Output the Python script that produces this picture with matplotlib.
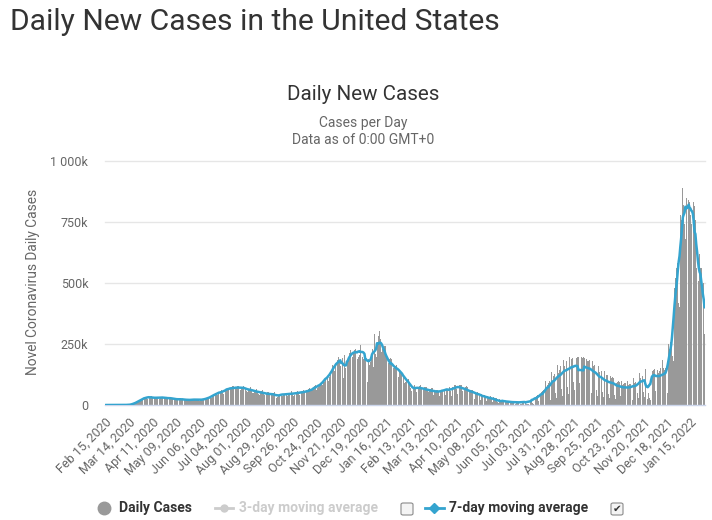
import numpy as np
import pandas as pd
import matplotlib.pyplot as plt
from matplotlib.lines import Line2D
from matplotlib.patches import FancyBboxPatch

plt.rcParams['font.family'] = ['Roboto', 'DejaVu Sans']

start_date = '2020-02-15'

# daily new cases (thousands), one row per week, Sat..Fri
daily_k = [
    0, 0, 0, 0, 0, 0, 0.01,
    0, 0, 0.02, 0, 0.01, 0, 0.01,
    0.01, 0.02, 0.03, 0.03, 0.05, 0.07, 0.09,
    0.12, 0.13, 0.17, 0.27, 0.36, 0.44, 0.6,
    0.7, 0.8, 1.2, 1.7, 2.9, 4.5, 5.8,
    7.5, 9.1, 10.5, 11.0, 12.5, 17.0, 19.2,
    19.8, 19.5, 21.5, 25.3, 27.5, 29.5, 32.5,
    34.0, 26.5, 30.5, 31.0, 32.0, 34.5, 35.0,
    30.5, 27.5, 26.5, 28.0, 30.0, 31.5, 33.5,
    32.0, 27.0, 26.5, 28.5, 29.5, 32.0, 36.0,
    35.0, 27.0, 23.5, 25.5, 28.0, 30.0, 34.5,
    30.0, 26.5, 23.0, 24.5, 26.0, 28.0, 29.5,
    26.0, 21.0, 19.5, 22.0, 21.5, 28.0, 27.0,
    25.0, 19.0, 22.0, 20.5, 22.0, 23.5, 25.0,
    22.0, 19.0, 18.5, 19.0, 20.0, 23.0, 25.0,
    24.0, 20.0, 20.0, 21.0, 21.5, 22.5, 25.5,
    22.5, 18.0, 18.5, 20.5, 22.0, 24.0, 27.0,
    26, 21, 24, 26, 29, 32, 35,
    34, 30, 35, 39, 43, 45, 49,
    46, 42, 46, 50, 54, 58, 60,
    48, 46, 57, 62, 64, 66, 71,
    66, 61, 63, 68, 70, 76, 76,
    68, 63, 65, 70, 76, 79, 78,
    71, 61, 64, 69, 76, 78, 76,
    68, 56, 55, 62, 65, 70, 72,
    63, 51, 50, 55, 58, 62, 66,
    58, 44, 43, 50, 54, 56, 60,
    52, 42, 40, 44, 48, 52, 55,
    46, 37, 38, 42, 45, 48, 54,
    46, 34, 29, 33, 40, 44, 52,
    44, 36, 37, 41, 44, 48, 52,
    46, 38, 41, 43, 45, 49, 56,
    49, 38, 41, 46, 49, 52, 59,
    54, 40, 44, 49, 54, 58, 63,
    56, 45, 45, 54, 60, 65, 71,
    58, 49, 60, 63, 65, 76, 84,
    82, 62, 68, 75, 80, 92, 100,
    86, 84, 94, 93, 105, 120, 130,
    118, 100, 113, 125, 132, 148, 165,
    158, 138, 160, 162, 172, 186, 198,
    180, 160, 182, 185, 192, 110, 205,
    150, 135, 160, 182, 198, 215, 226,
    215, 180, 195, 215, 225, 230, 245,
    218, 188, 197, 205, 245, 238, 252,
    198, 188, 196, 200, 228, 205, 96,
    190, 165, 178, 200, 232, 230, 155,
    290, 210, 198, 228, 258, 282, 305,
    272, 218, 225, 230, 235, 240, 242,
    205, 175, 145, 172, 188, 192, 190,
    172, 132, 150, 150, 158, 165, 168,
    148, 115, 140, 132, 136, 138, 142,
    118, 92, 96, 100, 105, 108, 108,
    92, 70, 58, 68, 72, 75, 82,
    74, 55, 58, 72, 74, 78, 80,
    70, 55, 60, 62, 72, 74, 72,
    64, 45, 55, 60, 64, 68, 68,
    56, 40, 53, 56, 61, 62, 64,
    52, 38, 56, 56, 62, 66, 72,
    62, 40, 63, 63, 70, 76, 72,
    56, 36, 72, 65, 76, 82, 84,
    65, 45, 82, 75, 80, 84, 82,
    58, 40, 72, 70, 72, 76, 72,
    52, 31, 62, 56, 62, 63, 62,
    46, 26, 54, 46, 52, 53, 51,
    36, 21, 46, 37, 41, 39, 42,
    29, 17, 37, 29, 33, 33, 36,
    23, 13, 31, 24, 26, 27, 28,
    13, 8, 9, 26, 19, 19, 21,
    11, 6, 21, 16, 17, 16, 16,
    8, 5, 18, 13, 14, 14, 13,
    6, 4, 16, 11, 13, 13, 13,
    6, 4, 18, 13, 14, 15, 17,
    5, 3, 4, 27, 19, 21, 24,
    9, 5, 40, 29, 33, 36, 39,
    16, 9, 62, 46, 52, 57, 62,
    24, 14, 100, 74, 84, 92, 100,
    38, 20, 135, 100, 118, 128, 134,
    50, 28, 165, 130, 145, 150, 158,
    66, 38, 186, 158, 168, 178, 182,
    75, 45, 198, 175, 180, 190, 192,
    95, 60, 196, 188, 192, 198, 195,
    90, 55, 80, 195, 192, 195, 192,
    88, 52, 190, 180, 182, 186, 185,
    78, 48, 180, 160, 165, 168, 165,
    62, 38, 160, 135, 140, 142, 140,
    52, 32, 140, 118, 120, 122, 122,
    45, 28, 118, 108, 112, 115, 112,
    40, 24, 110, 92, 96, 98, 96,
    36, 22, 100, 84, 86, 90, 90,
    36, 20, 100, 82, 85, 88, 92,
    40, 22, 110, 90, 95, 95, 90,
    48, 30, 130, 110, 115, 120, 118,
    52, 32, 148, 118, 122, 25, 48,
    30, 20, 175, 160, 138, 142, 148,
    58, 38, 172, 142, 132, 140, 150,
    55, 40, 185, 152, 142, 152, 160,
    70, 50, 250, 230, 260, 290, 304,
    200, 180, 480, 520, 560, 611, 580,
    420, 400, 780, 760, 720, 889, 820,
    740, 680, 850, 820, 889, 840, 830,
    780, 740, 760, 800, 830, 817, 760,
    560, 440, 700, 509, 620, 560, 560,
    430, 380, 500, 290,
]

tick_every = 28
y_ticks = [0, 250000, 500000, 750000, 1000000]
y_tick_labels = ['0', '250k', '500k', '750k', '1 000k']

cases = np.array(daily_k) * 1000
dates = pd.date_range(start_date, periods=len(cases), freq='D')
avg7 = pd.Series(cases).rolling(7, center=True, min_periods=1).mean()
x = np.arange(len(cases))

W, H = 712, 520
fig = plt.figure(figsize=(W / 100, H / 100), dpi=100)
ax = fig.add_axes([105 / W, 1 - 405 / H, 600 / W, 244 / H])

ax.bar(x, cases, width=0.85, color='#999999', linewidth=0, zorder=2)
ax.plot(x, avg7, color='#34a4cf', lw=1.8, zorder=3,
        solid_capstyle='round', solid_joinstyle='round')

ax.set_xlim(-0.5, len(cases) - 0.5)
ax.set_ylim(0, 1000000)
for v in y_ticks[1:]:
    ax.axhline(v, color='#e6e6e6', lw=1, zorder=0, clip_on=False)

for s in ['top', 'right', 'left']:
    ax.spines[s].set_visible(False)
ax.spines['bottom'].set_color('#ccd6eb')
ax.spines['bottom'].set_linewidth(1)

ax.set_yticks(y_ticks)
ax.set_yticklabels(y_tick_labels)
ax.tick_params(axis='y', length=0, pad=12, labelsize=9, labelcolor='#666666')

ax.set_xticks(x[::tick_every])
ax.set_xticklabels(dates[::tick_every].strftime('%b %d, %Y'),
                   rotation=45, ha='right', rotation_mode='anchor')
ax.tick_params(axis='x', length=0, pad=8, labelsize=9, labelcolor='#666666')

# titles
fig.text(10 / W, 1 - 22 / H, 'Daily New Cases in the United States',
         ha='left', va='center', fontsize=21.6, color='#333333')
fig.text(363 / W, 1 - 95 / H, 'Daily New Cases', ha='center', va='center',
         fontsize=14.8, color='#333333')
fig.text(363 / W, 1 - 123 / H, 'Cases per Day', ha='center', va='center',
         fontsize=10, color='#666666')
fig.text(363 / W, 1 - 140 / H, 'Data as of 0:00 GMT+0', ha='center', va='center',
         fontsize=10, color='#666666')
fig.text(33 / W, 1 - 282 / H, 'Novel Coronavirus Daily Cases', rotation=90,
         ha='center', va='center', fontsize=9.9, color='#666666')

# legend
ly = 1 - 508 / H
fig.add_artist(Line2D([104 / W], [ly], marker='o', ms=9, color='#999999',
                      transform=fig.transFigure))
fig.text(119 / W, ly, 'Daily Cases', ha='left', va='center', fontsize=10,
         fontweight='bold', color='#333333')

fig.add_artist(Line2D([215 / W, 233 / W], [ly, ly], color='#cccccc', lw=2,
                      transform=fig.transFigure))
fig.add_artist(Line2D([224 / W], [ly], marker='o', ms=5, color='#cccccc',
                      transform=fig.transFigure))
fig.text(239 / W, ly, '3-day moving average', ha='left', va='center', fontsize=10,
         fontweight='bold', color='#cccccc')

fig.add_artist(Line2D([425 / W, 444 / W], [ly, ly], color='#34a4cf', lw=2,
                      transform=fig.transFigure))
fig.add_artist(Line2D([434.5 / W], [ly], marker='D', ms=5, color='#34a4cf',
                      transform=fig.transFigure))
fig.text(449 / W, ly, '7-day moving average', ha='left', va='center', fontsize=10,
         fontweight='bold', color='#333333')

for bx in [401, 611]:
    fig.add_artist(FancyBboxPatch((bx / W, 1 - 515 / H), 12 / W, 12 / H,
                                  boxstyle='round,pad=0,rounding_size=0.003',
                                  facecolor='#f4f4f4', edgecolor='#8a8a8a', lw=0.8,
                                  transform=fig.transFigure))
fig.text(617 / W, 1 - 509 / H, '\u2714', ha='center', va='center', fontsize=7.5,
         color='#333333', family='DejaVu Sans')

fig.savefig('out.png', dpi=100)
